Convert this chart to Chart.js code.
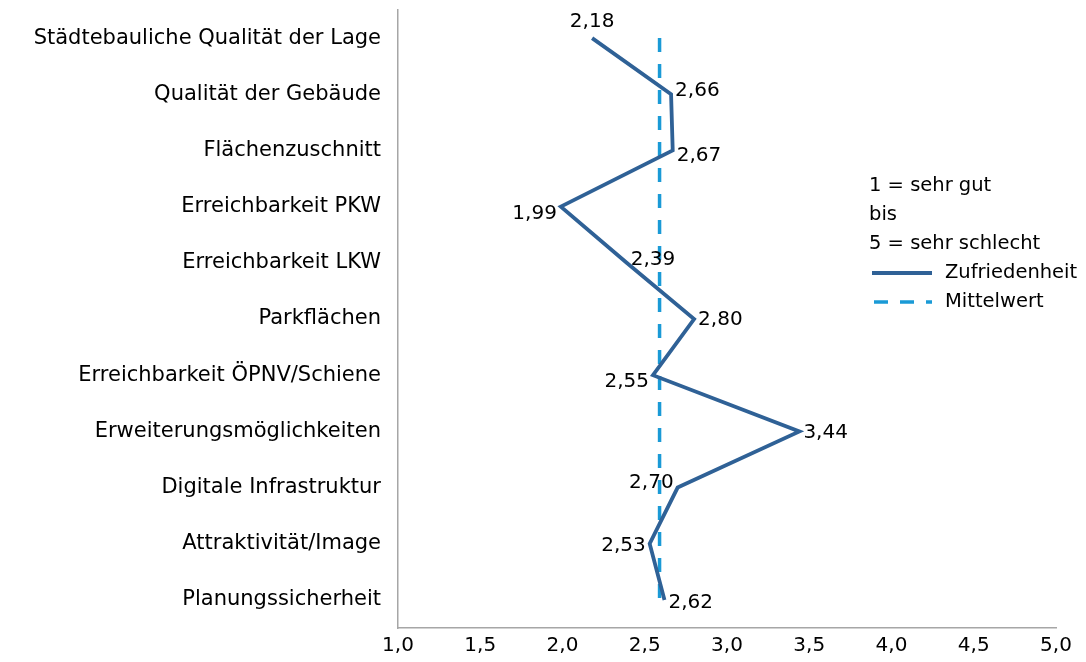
<!DOCTYPE html>
<html>
<head>
<meta charset="utf-8">
<script src="https://cdn.jsdelivr.net/npm/chart.js@4"></script>
<style>
  html, body { margin: 0; padding: 0; background: #fff; }
  #wrap { width: 1086px; height: 662px; position: relative; }
</style>
</head>
<body>
<div id="wrap"><canvas id="chart" width="1086" height="662"></canvas></div>
<script>
const categories = [
    "Städtebauliche Qualität der Lage",
    "Qualität der Gebäude",
    "Flächenzuschnitt",
    "Erreichbarkeit PKW",
    "Erreichbarkeit LKW",
    "Parkflächen",
    "Erreichbarkeit ÖPNV/Schiene",
    "Erweiterungsmöglichkeiten",
    "Digitale Infrastruktur",
    "Attraktivität/Image",
    "Planungssicherheit"
];
const satisfaction = [2.18, 2.66, 2.67, 1.99, 2.39, 2.80, 2.55, 3.44, 2.70, 2.53, 2.62];
const meanValue = 2.59;
const meanLine = categories.map(() => meanValue);
const labelSide = ["top", "right", "right", "left", "right", "right", "left", "right", "left", "left", "right"];
const labelShift = [0, -3, 5, 7, -3, 1, 7, 1, -5, 2, 3];
const legendNotes = ["1 = sehr gut", "bis", "5 = sehr schlecht"];

const FONT = "'DejaVu Sans', sans-serif";
const LINE_COLOR = "#2f6196";
const MEAN_COLOR = "#1a9ad6";

const valueLabels = {
    id: "valueLabels",
    afterDatasetsDraw(chart) {
        const ctx = chart.ctx;
        const meta = chart.getDatasetMeta(0);
        ctx.save();
        ctx.font = "20px " + FONT;
        ctx.fillStyle = "#000";
        meta.data.forEach((pt, i) => {
            let txt = satisfaction[i].toFixed(2).replace(".", ",");
            let side = labelSide[i];
            ctx.textBaseline = "middle";
            if (side === "top") {
                ctx.textAlign = "center";
                ctx.fillText(txt, pt.x, pt.y - 16);
            } else if (side === "right") {
                ctx.textAlign = "left";
                ctx.fillText(txt, pt.x + 4, pt.y + labelShift[i]);
            } else {
                ctx.textAlign = "right";
                ctx.fillText(txt, pt.x - 4, pt.y + labelShift[i]);
            }
        });
        ctx.restore();
    }
};

const sideLegend = {
    id: "sideLegend",
    afterDraw(chart) {
        const ctx = chart.ctx;
        ctx.save();
        ctx.font = "19.5px " + FONT;
        ctx.fillStyle = "#000";
        ctx.textAlign = "left";
        ctx.textBaseline = "middle";
        let x = 869, y = 186;
        legendNotes.forEach((t, i) => ctx.fillText(t, x, y + i * 29));
        // series entries
        let rowY = y + 3 * 29;
        ctx.strokeStyle = LINE_COLOR;
        ctx.lineWidth = 4;
        ctx.beginPath(); ctx.moveTo(872, rowY); ctx.lineTo(932, rowY); ctx.stroke();
        ctx.fillText(chart.data.datasets[0].label, 945, rowY);
        rowY += 29;
        ctx.strokeStyle = MEAN_COLOR;
        ctx.lineWidth = 3.5;
        ctx.setLineDash([14, 12]);
        ctx.beginPath(); ctx.moveTo(874, rowY); ctx.lineTo(932, rowY); ctx.stroke();
        ctx.setLineDash([]);
        ctx.fillText(chart.data.datasets[1].label, 945, rowY);
        ctx.restore();
    }
};

new Chart(document.getElementById("chart"), {
    type: "line",
    data: {
        labels: categories,
        datasets: [{
            label: "Zufriedenheit",
            data: satisfaction,
            borderColor: LINE_COLOR,
            borderWidth: 3.8,
            pointRadius: 0,
            tension: 0,
            fill: false
        }, {
            label: "Mittelwert",
            data: meanLine,
            borderColor: MEAN_COLOR,
            borderWidth: 3.5,
            borderDash: [14, 12],
            pointRadius: 0,
            fill: false
        }]
    },
    options: {
        indexAxis: "y",
        responsive: false,
        animation: false,
        layout: { padding: { top: 10, right: 30, bottom: 4, left: 0 } },
        plugins: { legend: { display: false }, tooltip: { enabled: false } },
        scales: {
            x: {
                type: "linear",
                min: 1, max: 5,
                ticks: {
                    stepSize: 0.5,
                    color: "#000",
                    font: { size: 20, family: FONT },
                    padding: 0,
                    callback: (v) => v.toFixed(1).replace(".", ",")
                },
                grid: { display: false, drawTicks: true, tickLength: 6, color: "#a6a6a6" },
                border: { display: true, color: "#a6a6a6", width: 1.5 }
            },
            y: {
                type: "category",
                offset: true,
                afterFit(scale) {
                    scale.width = 398;
                    scale.paddingTop = 0;
                    scale.paddingBottom = 0;
                },
                ticks: {
                    color: "#000",
                    font: { size: 21, family: FONT },
                    padding: 9
                },
                grid: { display: false },
                border: { display: true, color: "#a6a6a6", width: 1.5 }
            }
        }
    },
    plugins: [valueLabels, sideLegend]
});
</script>
</body>
</html>
